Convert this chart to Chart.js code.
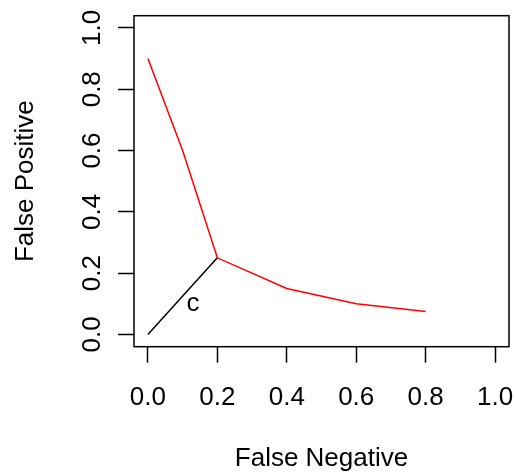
<!DOCTYPE html>
<html>
<head>
<meta charset="utf-8">
<script src="https://cdn.jsdelivr.net/npm/chart.js@4.4.1/dist/chart.umd.min.js"></script>
<style>
  html, body { margin: 0; padding: 0; background: #fff; }
  canvas { display: block; }
</style>
</head>
<body>
<canvas id="fpChart" width="516" height="474"></canvas>
<script>
// data
const redX = [0.0, 0.1, 0.2, 0.4, 0.6, 0.8];
const redY = [0.9, 0.6, 0.25, 0.15, 0.1, 0.075];
const blackX = [0.0, 0.2];
const blackY = [0.0, 0.25];
const tickValues = [0.0, 0.2, 0.4, 0.6, 0.8, 1.0];
const tickLabels = ['0.0', '0.2', '0.4', '0.6', '0.8', '1.0'];
const noteText = 'c';
const noteX = 0.13;
const noteY = 0.1;

const FONT = 'Liberation Sans, Arial, Helvetica, sans-serif';
const FS = 26;

const toPoints = (xs, ys) => xs.map((x, i) => ({ x: x, y: ys[i] }));

// box around the plot region + the "c" label
const boxPlugin = {
  id: 'box',
  afterDatasetsDraw(chart) {
    const { ctx, chartArea: a, scales } = chart;
    ctx.save();
    ctx.strokeStyle = '#000';
    ctx.lineWidth = 1.5;
    ctx.strokeRect(a.left, a.top, a.right - a.left, a.bottom - a.top);
    ctx.fillStyle = '#000';
    ctx.font = FS + 'px ' + FONT;
    ctx.textAlign = 'center';
    ctx.textBaseline = 'middle';
    ctx.fillText(noteText, scales.x.getPixelForValue(noteX), scales.y.getPixelForValue(noteY));
    ctx.restore();
  }
};

const ticksFromArray = (scale) => {
  scale.ticks = tickValues.map(v => ({ value: v }));
};

new Chart(document.getElementById('fpChart').getContext('2d'), {
  type: 'line',
  data: {
    datasets: [
      {
        data: toPoints(redX, redY),
        borderColor: '#ff0000',
        borderWidth: 1.5,
        pointRadius: 0,
        tension: 0,
        fill: false
      },
      {
        data: toPoints(blackX, blackY),
        borderColor: '#000000',
        borderWidth: 1.5,
        pointRadius: 0,
        tension: 0,
        fill: false
      }
    ]
  },
  options: {
    responsive: false,
    animation: false,
    devicePixelRatio: 1,
    layout: { padding: { left: 0, top: 15.7, right: 7, bottom: 0 } },
    plugins: {
      legend: { display: false },
      tooltip: { enabled: false }
    },
    scales: {
      x: {
        type: 'linear',
        min: -0.04,
        max: 1.04,
        afterBuildTicks: ticksFromArray,
        afterFit: (s) => { s.height = 474 - 346.7; s.paddingLeft = 0; s.paddingRight = 0; },
        border: { display: false },
        grid: {
          drawOnChartArea: false,
          drawTicks: true,
          tickLength: 16,
          tickWidth: 1.5,
          tickColor: '#000'
        },
        ticks: {
          color: '#000',
          font: { family: FONT, size: FS },
          padding: 20,
          maxRotation: 0,
          autoSkip: false,
          callback: (v) => tickLabels[tickValues.indexOf(v)]
        },
        title: {
          display: true,
          text: 'False Negative',
          color: '#000',
          font: { family: FONT, size: FS },
          padding: { top: 0, bottom: 0 }
        }
      },
      y: {
        type: 'linear',
        min: -0.04,
        max: 1.04,
        afterBuildTicks: ticksFromArray,
        afterFit: (s) => { s.width = 134; s.paddingTop = 0; s.paddingBottom = 0; },
        border: { display: false },
        grid: {
          drawOnChartArea: false,
          drawTicks: true,
          tickLength: 16,
          tickWidth: 1.5,
          tickColor: '#000'
        },
        ticks: {
          color: '#000',
          font: { family: FONT, size: FS },
          padding: 7,
          minRotation: 90,
          maxRotation: 90,
          crossAlign: 'center',
          autoSkip: false,
          callback: (v) => tickLabels[tickValues.indexOf(v)]
        },
        title: {
          display: true,
          text: 'False Positive',
          color: '#000',
          font: { family: FONT, size: FS },
          padding: { top: 10, bottom: 0 }
        }
      }
    }
  },
  plugins: [boxPlugin]
});
</script>
</body>
</html>
